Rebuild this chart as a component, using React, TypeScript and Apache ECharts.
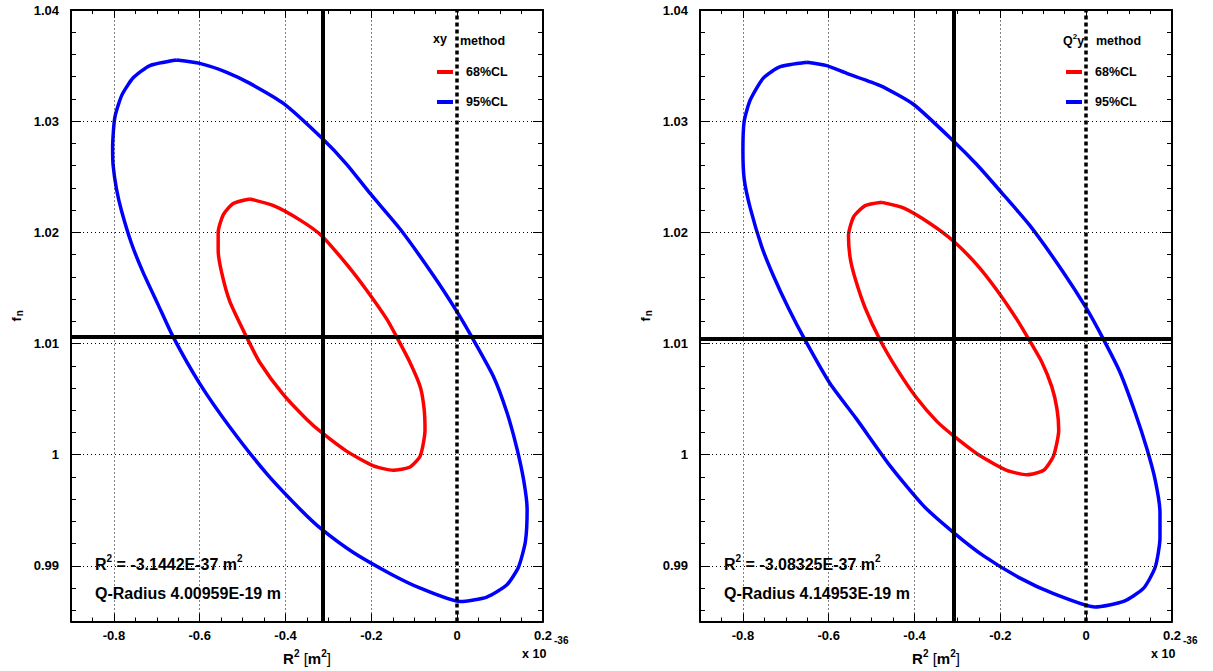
import React, { useEffect, useRef } from 'react';
import * as echarts from 'echarts';

const FONT = '"Liberation Sans", Arial, Helvetica, sans-serif';

// axis ranges and ticks (units: x in 1e-36 m^2, y dimensionless)
const X_RANGE = [-0.9, 0.2];
const Y_RANGE = [0.985, 1.04];
const xMajor = [-0.8, -0.6, -0.4, -0.2, 0, 0.2];
const xMinor = [-0.85, -0.75, -0.7, -0.65, -0.55, -0.5, -0.45, -0.35, -0.3, -0.25, -0.15, -0.1, -0.05, 0.05, 0.1, 0.15];
const yMajor = [0.99, 1, 1.01, 1.02, 1.03, 1.04];
const yMinor = [0.986, 0.988, 0.992, 0.994, 0.996, 0.998, 1.002, 1.004, 1.006, 1.008, 1.012, 1.014, 1.016, 1.018, 1.022, 1.024, 1.026, 1.028, 1.032, 1.034, 1.036, 1.038];
const xGrid = [-0.8, -0.6, -0.4, -0.2];
const yGrid = [0.99, 1, 1.01, 1.02, 1.03];

// contours, xy method
const xy68 = [[-0.483,1.0230],[-0.522,1.0226],[-0.545,1.0216],[-0.557,1.0200],[-0.557,1.0184],[-0.549,1.0164],[-0.530,1.0138],[-0.491,1.0106],[-0.460,1.0083],[-0.405,1.0054],[-0.351,1.0032],[-0.316,1.0020],[-0.257,1.0003],[-0.195,0.9990],[-0.149,0.9986],[-0.110,0.9989],[-0.086,0.9999],[-0.075,1.0022],[-0.077,1.0041],[-0.086,1.0061],[-0.110,1.0083],[-0.141,1.0106],[-0.164,1.0122],[-0.211,1.0148],[-0.257,1.0171],[-0.316,1.0197],[-0.366,1.0211],[-0.428,1.0224],[-0.483,1.0230]];
const xy95 = [[-0.654,1.0355],[-0.716,1.0350],[-0.755,1.0339],[-0.782,1.0323],[-0.798,1.0303],[-0.803,1.0277],[-0.802,1.0261],[-0.794,1.0239],[-0.782,1.0219],[-0.759,1.0190],[-0.732,1.0164],[-0.697,1.0135],[-0.662,1.0106],[-0.600,1.0064],[-0.530,1.0025],[-0.444,0.9983],[-0.366,0.9951],[-0.316,0.9933],[-0.242,0.9912],[-0.156,0.9893],[-0.086,0.9880],[0.007,0.9868],[0.069,0.9872],[0.116,0.9883],[0.143,0.9899],[0.159,0.9922],[0.163,0.9951],[0.155,0.9977],[0.139,1.0006],[0.116,1.0038],[0.085,1.0070],[0.034,1.0106],[-0.001,1.0129],[-0.055,1.0161],[-0.133,1.0203],[-0.203,1.0235],[-0.257,1.0261],[-0.316,1.0285],[-0.405,1.0316],[-0.483,1.0334],[-0.537,1.0344],[-0.600,1.0352],[-0.654,1.0355]];

// contours, Q^2 y method
const q2y68 = [[-0.476,1.0227],[-0.515,1.0224],[-0.542,1.0214],[-0.554,1.0197],[-0.550,1.0177],[-0.538,1.0158],[-0.515,1.0132],[-0.480,1.0103],[-0.441,1.0077],[-0.395,1.0051],[-0.348,1.0030],[-0.309,1.0017],[-0.247,0.9999],[-0.185,0.9986],[-0.138,0.9982],[-0.099,0.9986],[-0.076,0.9999],[-0.064,1.0022],[-0.068,1.0041],[-0.080,1.0061],[-0.103,1.0083],[-0.134,1.0104],[-0.162,1.0122],[-0.208,1.0148],[-0.255,1.0171],[-0.309,1.0192],[-0.364,1.0208],[-0.426,1.0222],[-0.476,1.0227]];
const q2y95 = [[-0.651,1.0353],[-0.713,1.0349],[-0.752,1.0339],[-0.783,1.0319],[-0.797,1.0300],[-0.800,1.0274],[-0.797,1.0248],[-0.783,1.0222],[-0.756,1.0187],[-0.729,1.0161],[-0.694,1.0132],[-0.655,1.0103],[-0.597,1.0064],[-0.535,1.0032],[-0.457,0.9990],[-0.379,0.9954],[-0.309,0.9930],[-0.239,0.9909],[-0.154,0.9889],[-0.076,0.9875],[0.021,0.9863],[0.087,0.9868],[0.134,0.9880],[0.161,0.9899],[0.172,0.9925],[0.172,0.9948],[0.161,0.9977],[0.141,1.0006],[0.114,1.0038],[0.079,1.0074],[0.040,1.0104],[0.000,1.0132],[-0.053,1.0164],[-0.131,1.0206],[-0.200,1.0237],[-0.255,1.0261],[-0.309,1.0282],[-0.402,1.0315],[-0.480,1.0332],[-0.558,1.0343],[-0.605,1.0350],[-0.651,1.0353]];

// best-fit values
const bestR2 = [-0.31442, -0.308325];
const bestFn = [1.0106, 1.0104];
const r2Labels = ['-3.1442E-37', '-3.08325E-37'];
const radiusLabels = ['4.00959E-19', '4.14953E-19'];
const methodLabels = ['{a|xy}', '{a|Q}{s|2}{a|y}'];
const clNames = ['68%CL', '95%CL'];
const clColors = ['#ff0000', '#0000ff'];

const GRID_LEFT = [71, 700];
const GRID_TOP = 10;
const GRID_W = 472;
const GRID_H = 613;

const black = '#000';

function buildOption() {
  const grid: any[] = [];
  const xAxis: any[] = [];
  const yAxis: any[] = [];
  const series: any[] = [];
  const legend: any[] = [];
  const graphic: any[] = [];

  const contours = [[xy68, xy95], [q2y68, q2y95]];

  for (let p = 0; p < 2; p++) {
    const L = GRID_LEFT[p];
    grid.push({ left: L, top: GRID_TOP, width: GRID_W, height: GRID_H });

    const hidden = {
      type: 'value', gridIndex: p, splitLine: { show: false },
      axisLabel: { show: false }, axisLine: { show: false, onZero: false },
    };
    const tick = (vals: number[], len: number) => ({
      show: true, inside: true, length: len, customValues: vals,
      lineStyle: { color: black, width: 1 },
    });
    const frame = { show: true, onZero: false, lineStyle: { color: black, width: 2 } };
    const lbl = { color: black, fontSize: 13, fontWeight: 'bold', fontFamily: FONT };

    // x axes: bottom major, bottom minor, top major, top minor
    xAxis.push({
      ...hidden, min: X_RANGE[0], max: X_RANGE[1], position: 'bottom',
      axisLine: frame, axisTick: tick(xMajor, 8),
      axisLabel: {
        show: true, customValues: xMajor, margin: 7, ...lbl,
        formatter: (v: number) => { const r = Math.round(v * 10) / 10; return r === 0 ? '0' : String(r); },
      },
      name: '{a|R}{s|2}{b| [}{a|m}{s|2}{b|]}', nameLocation: 'middle', nameGap: 27,
      nameTextStyle: {
        rich: {
          a: { fontSize: 15, fontWeight: 'bold', fontFamily: FONT, color: black, lineHeight: 20 },
          b: { fontSize: 15, fontWeight: 'normal', fontFamily: FONT, color: black, lineHeight: 20 },
          s: { fontSize: 10, fontWeight: 'bold', fontFamily: FONT, color: black, lineHeight: 10, verticalAlign: 'top' },
        },
      },
    });
    xAxis.push({ ...hidden, min: X_RANGE[0], max: X_RANGE[1], position: 'bottom', axisTick: tick(xMinor, 4) });
    xAxis.push({ ...hidden, min: X_RANGE[0], max: X_RANGE[1], position: 'top', axisLine: frame, axisTick: tick(xMajor, 8) });
    xAxis.push({ ...hidden, min: X_RANGE[0], max: X_RANGE[1], position: 'top', axisTick: tick(xMinor, 4) });

    // y axes: left major, left minor, right major, right minor
    yAxis.push({
      ...hidden, min: Y_RANGE[0], max: Y_RANGE[1], position: 'left',
      axisLine: frame, axisTick: tick(yMajor, 10),
      axisLabel: {
        show: true, customValues: yMajor, margin: 12, ...lbl,
        formatter: (v: number) => String(Math.round(v * 100) / 100),
      },
      name: '{a|f}{s|n}', nameLocation: 'middle', nameRotate: 90, nameGap: 47,
      nameTextStyle: {
        rich: {
          a: { fontSize: 13, fontWeight: 'bold', fontFamily: FONT, color: black, lineHeight: 16 },
          s: { fontSize: 10, fontWeight: 'bold', fontFamily: FONT, color: black, lineHeight: 10, verticalAlign: 'bottom', padding: [0, 0, 0, 1] },
        },
      },
    });
    yAxis.push({ ...hidden, min: Y_RANGE[0], max: Y_RANGE[1], position: 'left', axisTick: tick(yMinor, 5) });
    yAxis.push({ ...hidden, min: Y_RANGE[0], max: Y_RANGE[1], position: 'right', axisLine: frame, axisTick: tick(yMajor, 10) });
    yAxis.push({ ...hidden, min: Y_RANGE[0], max: Y_RANGE[1], position: 'right', axisTick: tick(yMinor, 5) });

    const xi = p * 4;
    const yi = p * 4;

    // dotted grid
    series.push({
      type: 'line', xAxisIndex: xi, yAxisIndex: yi, data: [], z: 1, silent: true,
      markLine: {
        silent: true, symbol: ['none', 'none'], label: { show: false }, precision: 6,
        lineStyle: { color: black, width: 1, type: [1, 3] },
        emphasis: { disabled: true },
        data: [...xGrid.map((v) => ({ xAxis: v })), ...yGrid.map((v) => ({ yAxis: v }))],
      },
    });

    // contours
    for (let c = 0; c < 2; c++) {
      series.push({
        type: 'line', name: clNames[c], xAxisIndex: xi, yAxisIndex: yi,
        data: contours[p][c], showSymbol: false, symbol: 'none', smooth: 0.2,
        lineStyle: { color: clColors[c], width: 3.5 }, itemStyle: { color: clColors[c] },
        z: 3, silent: true,
      });
    }

    // best fit lines and zero line
    series.push({
      type: 'line', xAxisIndex: xi, yAxisIndex: yi, data: [], z: 5, silent: true,
      markLine: {
        silent: true, symbol: ['none', 'none'], label: { show: false }, precision: 6,
        emphasis: { disabled: true },
        data: [
          { xAxis: bestR2[p], lineStyle: { color: black, width: 4, type: 'solid' } },
          { yAxis: bestFn[p], lineStyle: { color: black, width: 4, type: 'solid' } },
          { xAxis: 0, lineStyle: { color: black, width: 3.5, type: [4, 3] } },
        ],
      },
    });

    legend.push({
      data: clNames, orient: 'vertical', left: L + 361, top: 60,
      itemWidth: 16, itemHeight: 4, itemGap: 16, icon: 'rect', selectedMode: false,
      textStyle: { color: black, fontSize: 12.5, fontWeight: 'bold', fontFamily: FONT, lineHeight: 14, padding: [0, 0, 0, 8] },
    });

    // legend header
    const hx = p === 0 ? L + 362 : L + 363;
    graphic.push({
      type: 'text', left: hx, top: 32, silent: true,
      style: {
        text: methodLabels[p],
        rich: {
          a: { fontSize: 12.5, fontWeight: 'bold', fontFamily: FONT, fill: black, lineHeight: 18 },
          s: { fontSize: 8, fontWeight: 'bold', fontFamily: FONT, fill: black, lineHeight: 8, verticalAlign: 'top' },
        },
      },
    });
    graphic.push({
      type: 'text', left: L + (p === 0 ? 389 : 396), top: 34, silent: true,
      style: { text: 'method', fontSize: 12.5, fontWeight: 'bold', fontFamily: FONT, fill: black },
    });

    // result annotations
    graphic.push({
      type: 'text', left: L + 24, top: 553, silent: true,
      style: {
        text: '{a|R}{s|2}{a| = ' + r2Labels[p] + ' m}{s|2}',
        rich: {
          a: { fontSize: 16, fontWeight: 'bold', fontFamily: FONT, fill: black, lineHeight: 22 },
          s: { fontSize: 10, fontWeight: 'bold', fontFamily: FONT, fill: black, lineHeight: 10, verticalAlign: 'top' },
        },
      },
    });
    graphic.push({
      type: 'text', left: L + 24, top: 585, silent: true,
      style: { text: 'Q-Radius ' + radiusLabels[p] + ' m', fontSize: 16, fontWeight: 'bold', fontFamily: FONT, fill: black },
    });

    // axis multiplier
    graphic.push({
      type: 'text', left: L + 451, top: 647, silent: true,
      style: { text: 'x 10', fontSize: 12.5, fontWeight: 'bold', fontFamily: FONT, fill: black },
    });
    graphic.push({
      type: 'text', left: L + 483, top: 635, silent: true,
      style: { text: '-36', fontSize: 10, fontWeight: 'bold', fontFamily: FONT, fill: black },
    });
  }

  return {
    animation: false,
    backgroundColor: '#fff',
    grid, xAxis, yAxis, series, legend, graphic,
  };
}

export default function App() {
  const ref = useRef<HTMLDivElement>(null);
  useEffect(() => {
    if (!ref.current) return;
    const chart = echarts.init(ref.current, null, { renderer: 'svg' });
    chart.setOption(buildOption() as any);
    return () => chart.dispose();
  }, []);
  return (
    <div
      ref={ref}
      style={{ position: 'fixed', left: 0, top: 0, width: 1213, height: 671, background: '#fff' }}
    />
  );
}
